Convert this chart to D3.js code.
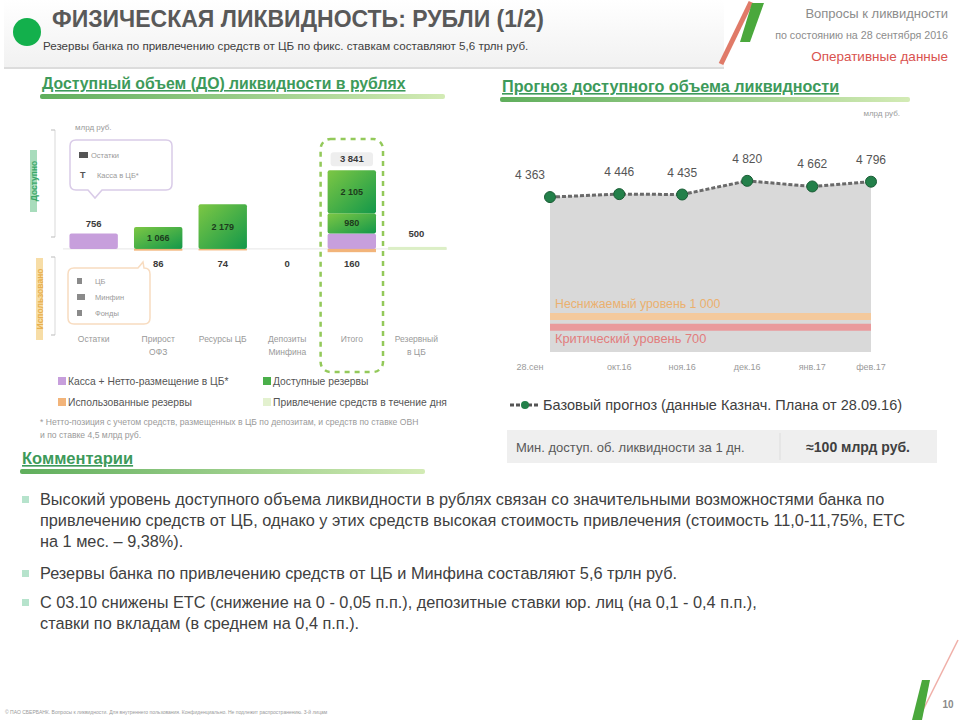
<!DOCTYPE html>
<html>
<head>
<meta charset="utf-8">
<script src="https://cdn.jsdelivr.net/npm/d3@7"></script>
<style>
  body { margin: 0; background: #fff; }
  svg { font-family: "Liberation Sans", Arial, sans-serif; display: block; }
</style>
</head>
<body>
<svg id="slide" width="960" height="720"></svg>
<script>
// --- data -------------------------------------------------------------
var barCats = ["Остатки", "Прирост|ОФЗ", "Ресурсы ЦБ", "Депозиты|Минфина", "Итого", "Резервный|в ЦБ"];
var cashVals = [756, 0, 0, 0, 756, 0];          // purple
var resLow = [0, 1066, 2179, 0, 980, 0];        // green (lower segment)
var resHigh = [0, 0, 0, 0, 2105, 0];            // green (upper segment, Итого)
var usedVals = [0, 86, 74, 0, 160, 0];          // orange, below axis
var topLabels = ["756", "", "", "", "3 841", "500"];

var fcDates = ["2016-09-28", "2016-10-31", "2016-11-30", "2016-12-31", "2017-01-31", "2017-02-28"];
var fcLabels = ["28.сен", "окт.16", "ноя.16", "дек.16", "янв.17", "фев.17"];
var fcVals = [4363, 4446, 4435, 4820, 4662, 4796];
var minLevel = 1000, critLevel = 700;

var comments = [
  ["Высокий уровень доступного объема ликвидности в рублях связан со значительными возможностями банка по",
   "привлечению средств  от ЦБ, однако у этих средств высокая стоимость привлечения (стоимость 11,0-11,75%, ЕТС",
   "на 1 мес. – 9,38%)."],
  ["Резервы банка по привлечению средств от ЦБ и Минфина составляют 5,6 трлн руб."],
  ["С 03.10 снижены ЕТС (снижение на 0 - 0,05 п.п.), депозитные ставки юр. лиц (на 0,1 - 0,4 п.п.),",
   "ставки по вкладам (в среднем на 0,4 п.п.)."]
];

var svg = d3.select("#slide");
var defs = svg.append("defs");

var g1 = defs.append("linearGradient").attr("id", "barGreen").attr("x1", 0).attr("y1", 0).attr("x2", 1).attr("y2", 1);
g1.append("stop").attr("offset", "0%").attr("stop-color", "#7dc744");
g1.append("stop").attr("offset", "100%").attr("stop-color", "#13984a");

var g2 = defs.append("linearGradient").attr("id", "uline");
g2.append("stop").attr("offset", "0%").attr("stop-color", "#5fae5c");
g2.append("stop").attr("offset", "100%").attr("stop-color", "#d3ebb5");

var g3 = defs.append("linearGradient").attr("id", "hdr").attr("x1", 0).attr("y1", 0).attr("x2", 0).attr("y2", 1);
g3.append("stop").attr("offset", "0%").attr("stop-color", "#ffffff");
g3.append("stop").attr("offset", "100%").attr("stop-color", "#f1f1f1");

// --- header -----------------------------------------------------------
svg.append("rect").attr("x", 4).attr("y", 0).attr("width", 720).attr("height", 68)
  .attr("fill", "url(#hdr)");
svg.append("line").attr("x1", 4).attr("x2", 724).attr("y1", 68).attr("y2", 68)
  .attr("stroke", "#dcdcdc").attr("stroke-width", 2);
svg.append("circle").attr("cx", 27).attr("cy", 32).attr("r", 14).attr("fill", "#13b04c");
svg.append("text").attr("x", 52).attr("y", 27).attr("font-size", 23).attr("font-weight", "bold")
  .attr("fill", "#595959").text("ФИЗИЧЕСКАЯ ЛИКВИДНОСТЬ: РУБЛИ (1/2)");
svg.append("text").attr("x", 43).attr("y", 50).attr("font-size", 11.6).attr("fill", "#404040")
  .text("Резервы банка по привлечению средств от ЦБ по фикс. ставкам составляют 5,6 трлн руб.");

// logo stripes
svg.append("line").attr("x1", 721).attr("y1", 64).attr("x2", 751).attr("y2", 2)
  .attr("stroke", "#e07a68").attr("stroke-width", 5);
svg.append("path").attr("d", "M752,3 L764,3 L750,42 L740,42 Z").attr("fill", "#4aa83c");

svg.append("text").attr("x", 948).attr("y", 18).attr("text-anchor", "end").attr("font-size", 13)
  .attr("fill", "#8c8c8c").text("Вопросы к ликвидности");
svg.append("text").attr("x", 948).attr("y", 39).attr("text-anchor", "end").attr("font-size", 10.7)
  .attr("fill", "#8c8c8c").text("по состоянию на 28 сентября 2016");
svg.append("text").attr("x", 948).attr("y", 61).attr("text-anchor", "end").attr("font-size", 13.5)
  .attr("fill", "#d9534f").text("Оперативные данные");

function sectionTitle(x, y, w, label, fs) {
  svg.append("text").attr("x", x + 2).attr("y", y).attr("font-size", fs).attr("font-weight", "bold")
    .attr("fill", "#3d9a5a").attr("text-decoration", "underline").text(label);
  svg.append("rect").attr("x", x).attr("y", y + 5).attr("width", w).attr("height", 5)
    .attr("rx", 2).attr("fill", "url(#uline)");
}
sectionTitle(40, 89, 405, "Доступный объем (ДО) ликвидности в рублях", 15.8);
sectionTitle(500, 92, 410, "Прогноз доступного объема ликвидности", 16.2);
sectionTitle(20, 464, 405, "Комментарии", 16.5);

// --- left chart: available / used volume -------------------------------
var xL = d3.scaleBand().domain(barCats).range([63, 447]).paddingInner(0.25).paddingOuter(0.1);
var yL = d3.scaleLinear().domain([-200, 4000]).range([253, 167]);
var bw = xL.bandwidth();

svg.append("text").attr("x", 75).attr("y", 130).attr("font-size", 8).attr("fill", "#9a9a9a").text("млрд руб.");

// axis segments
svg.append("line").attr("x1", 55).attr("x2", 55).attr("y1", 130).attr("y2", 237).attr("stroke", "#d9d9d9");
svg.append("line").attr("x1", 55).attr("x2", 55).attr("y1", 257).attr("y2", 335).attr("stroke", "#d9d9d9");
[130, 237, 257, 335].forEach(function(t) {
  svg.append("line").attr("x1", 51).attr("x2", 55).attr("y1", t).attr("y2", t).attr("stroke", "#bbb");
});
svg.append("line").attr("x1", 63).attr("x2", 447).attr("y1", yL(0)).attr("y2", yL(0))
  .attr("stroke", "#e6e6e6");

// side labels
svg.append("rect").attr("x", 30).attr("y", 150).attr("width", 7).attr("height", 62).attr("fill", "#a8dcbc");
svg.append("text").attr("transform", "translate(37,181) rotate(-90)").attr("text-anchor", "middle")
  .attr("font-size", 8.5).attr("font-weight", "bold").attr("fill", "#3aa86a").text("Доступно");
svg.append("rect").attr("x", 36).attr("y", 258).attr("width", 7).attr("height", 82).attr("fill", "#f7dda6");
svg.append("text").attr("transform", "translate(43,299) rotate(-90)").attr("text-anchor", "middle")
  .attr("font-size", 8.5).attr("font-weight", "bold").attr("fill", "#e8b04e").text("Использовано");

// dashed frame around total
var totX = xL("Итого");
svg.append("rect").attr("x", totX - 7).attr("y", 139).attr("width", bw + 14).attr("height", 233)
  .attr("rx", 10).attr("fill", "none").attr("stroke", "#93c95a").attr("stroke-width", 2.5)
  .attr("stroke-dasharray", "5,5");

var bars = svg.append("g");
barCats.forEach(function(c, i) {
  var x = xL(c);
  var base = 0;
  if (cashVals[i] > 0) {
    bars.append("rect").attr("x", x).attr("y", yL(base + cashVals[i])).attr("width", bw)
      .attr("height", yL(base) - yL(base + cashVals[i])).attr("fill", "#c79fdc").attr("rx", 2);
    base += cashVals[i];
  }
  [resLow[i], resHigh[i]].forEach(function(v) {
    if (v <= 0) return;
    bars.append("rect").attr("x", x).attr("y", yL(base + v)).attr("width", bw)
      .attr("height", yL(base) - yL(base + v)).attr("fill", "url(#barGreen)").attr("rx", 2);
    bars.append("text").attr("x", x + bw / 2).attr("y", yL(base + v / 2) + 3).attr("text-anchor", "middle")
      .attr("font-size", 9).attr("font-weight", "bold").attr("fill", "#1d3b1d").text(d3.format(",")(v).replace(",", " "));
    base += v;
  });
  if (usedVals[i] > 0) {
    bars.append("rect").attr("x", x).attr("y", yL(0)).attr("width", bw)
      .attr("height", yL(-usedVals[i]) - yL(0)).attr("fill", "#f2b47a");
  }
  // used label below axis
  if (i >= 1 && i <= 4) {
    bars.append("text").attr("x", x + bw / 2).attr("y", 267).attr("text-anchor", "middle")
      .attr("font-size", 9.5).attr("font-weight", "bold").attr("fill", "#3a3a3a").text(usedVals[i]);
  }
  // category labels
  c.split("|").forEach(function(part, k) {
    bars.append("text").attr("x", x + bw / 2).attr("y", 342 + k * 13).attr("text-anchor", "middle")
      .attr("font-size", 8.5).attr("fill", "#9a9a9a").text(part);
  });
});

// top labels
var tl = topLabels;
bars.append("text").attr("x", xL(barCats[0]) + bw / 2).attr("y", yL(cashVals[0]) - 6).attr("text-anchor", "middle")
  .attr("font-size", 9.5).attr("font-weight", "bold").attr("fill", "#3a3a3a").text(tl[0]);
var totTop = cashVals[4] + resLow[4] + resHigh[4];
bars.append("rect").attr("x", totX + 3).attr("y", yL(totTop) - 18).attr("width", bw - 6).attr("height", 14)
  .attr("rx", 3).attr("fill", "#eeeeee");
bars.append("text").attr("x", totX + bw / 2).attr("y", yL(totTop) - 8).attr("text-anchor", "middle")
  .attr("font-size", 9.5).attr("font-weight", "bold").attr("fill", "#3a3a3a").text(tl[4]);
var lastX = xL(barCats[5]);
bars.append("rect").attr("x", lastX - 4).attr("y", yL(0) - 2).attr("width", bw + 10).attr("height", 3)
  .attr("fill", "#dcefc6");
bars.append("text").attr("x", lastX + bw / 2).attr("y", yL(0) - 12).attr("text-anchor", "middle")
  .attr("font-size", 9.5).attr("font-weight", "bold").attr("fill", "#3a3a3a").text(tl[5]);

// callouts
svg.append("path")
  .attr("d", "M76,140 H166 Q172,140 172,146 V184 Q172,190 166,190 H102 L95,198 L88,190 H76 Q70,190 70,184 V146 Q70,140 76,140 Z")
  .attr("fill", "#fff").attr("stroke", "#d9cbe8").attr("stroke-width", 1.5);
svg.append("rect").attr("x", 79).attr("y", 152).attr("width", 9).attr("height", 6).attr("fill", "#555");
svg.append("text").attr("x", 91).attr("y", 158).attr("font-size", 7.5).attr("fill", "#9a9a9a").text("Остатки");
svg.append("text").attr("x", 80).attr("y", 178).attr("font-size", 9).attr("font-weight", "bold").attr("fill", "#555").text("Т");
svg.append("text").attr("x", 97).attr("y", 178).attr("font-size", 7.5).attr("fill", "#9a9a9a").text("Касса в ЦБ*");

svg.append("path")
  .attr("d", "M74,268 H138 L143,262 L144,268 Q150,268 150,274 V318 Q150,324 144,324 H74 Q68,324 68,318 V274 Q68,268 74,268 Z")
  .attr("fill", "#fff").attr("stroke", "#f8dcc0").attr("stroke-width", 1.5);
[["ЦБ", 284], ["Минфин", 300], ["Фонды", 316]].forEach(function(it, k) {
  svg.append("rect").attr("x", 77).attr("y", it[1] - 6).attr("width", k === 1 ? 8 : 5).attr("height", 6)
    .attr("fill", "#8a8a8a");
  svg.append("text").attr("x", 95).attr("y", it[1]).attr("font-size", 7.5).attr("fill", "#9a9a9a").text(it[0]);
});

// legend
var legL = [
  ["#c79fdc", "Касса + Нетто-размещение в ЦБ*", 58, 385],
  ["#4aaf4a", "Доступные резервы", 263, 385],
  ["#f2b47a", "Использованные резервы", 58, 406],
  ["#e3f1cf", "Привлечение средств в течение дня", 263, 406]
];
legL.forEach(function(l) {
  svg.append("rect").attr("x", l[2]).attr("y", l[3] - 8).attr("width", 8).attr("height", 8).attr("fill", l[0]);
  svg.append("text").attr("x", l[2] + 10).attr("y", l[3]).attr("font-size", 10.3).attr("fill", "#555").text(l[1]);
});
svg.append("text").attr("x", 40).attr("y", 425).attr("font-size", 8.6).attr("fill", "#9a9a9a")
  .text("* Нетто-позиция с учетом средств, размещенных в ЦБ по депозитам, и средств по ставке ОВН");
svg.append("text").attr("x", 40).attr("y", 438).attr("font-size", 8.6).attr("fill", "#9a9a9a")
  .text("и по ставке 4,5 млрд руб.");

// --- right chart: forecast --------------------------------------------
var parse = d3.timeParse("%Y-%m-%d");
var fc = fcDates.map(function(d, i) { return { date: parse(d), v: fcVals[i], lab: fcLabels[i] }; });
var xR = d3.scaleTime().domain(d3.extent(fc, function(d) { return d.date; })).range([550, 871]);
var yR = d3.scaleLinear().domain([0, 4900]).range([352, 178]);

svg.append("text").attr("x", 900).attr("y", 116).attr("text-anchor", "end").attr("font-size", 8)
  .attr("fill", "#9a9a9a").text("млрд руб.");

svg.append("path").datum(fc)
  .attr("d", d3.area().x(function(d) { return xR(d.date); }).y0(yR(0)).y1(function(d) { return yR(d.v); }))
  .attr("fill", "#d9d9d9");

var x0 = xR(fc[0].date), x1 = xR(fc[fc.length - 1].date);
svg.append("line").attr("x1", x0).attr("x2", x1).attr("y1", yR(minLevel)).attr("y2", yR(minLevel))
  .attr("stroke", "#f4c99c").attr("stroke-width", 7);
svg.append("line").attr("x1", x0).attr("x2", x1).attr("y1", yR(critLevel)).attr("y2", yR(critLevel))
  .attr("stroke", "#e99a9c").attr("stroke-width", 7);
svg.append("text").attr("x", x0 + 5).attr("y", yR(minLevel) - 8).attr("font-size", 12.3)
  .attr("fill", "#ebb06e").text("Неснижаемый уровень 1 000");
svg.append("text").attr("x", x0 + 5).attr("y", yR(critLevel) + 16).attr("font-size", 12.8)
  .attr("fill", "#e27d7d").text("Критический уровень 700");

svg.append("path").datum(fc)
  .attr("d", d3.line().x(function(d) { return xR(d.date); }).y(function(d) { return yR(d.v); }))
  .attr("fill", "none").attr("stroke", "#6a6a6a").attr("stroke-width", 3).attr("stroke-dasharray", "4,2");

var pts = svg.append("g").selectAll("g").data(fc).join("g");
pts.append("circle").attr("cx", function(d) { return xR(d.date); }).attr("cy", function(d) { return yR(d.v); })
  .attr("r", 5.5).attr("fill", "#23804a").attr("stroke", "#1a5c35");
pts.append("text")
  .attr("x", function(d, i) { return xR(d.date) - (i === 0 ? 20 : 0); })
  .attr("y", function(d) { return yR(d.v) - 18; })
  .attr("text-anchor", "middle").attr("font-size", 12).attr("fill", "#555")
  .text(function(d) { return d3.format(",")(d.v).replace(",", " "); });
pts.append("text")
  .attr("x", function(d, i) { return xR(d.date) - (i === 0 ? 20 : 0); })
  .attr("y", 370).attr("text-anchor", "middle").attr("font-size", 9).attr("fill", "#9a9a9a")
  .text(function(d) { return d.lab; });

// legend for forecast
svg.append("line").attr("x1", 510).attr("x2", 540).attr("y1", 405).attr("y2", 405)
  .attr("stroke", "#555").attr("stroke-width", 3).attr("stroke-dasharray", "4,2");
svg.append("circle").attr("cx", 525).attr("cy", 405).attr("r", 4).attr("fill", "#23804a");
svg.append("text").attr("x", 543).attr("y", 410).attr("font-size", 14.5).attr("fill", "#404040")
  .text("Базовый прогноз (данные Казнач. Плана от 28.09.16)");

// summary box
svg.append("rect").attr("x", 507).attr("y", 430).attr("width", 430).attr("height", 33).attr("fill", "#efefef");
svg.append("line").attr("x1", 780).attr("x2", 780).attr("y1", 433).attr("y2", 460).attr("stroke", "#ddd");
svg.append("text").attr("x", 516).attr("y", 452).attr("font-size", 13).attr("fill", "#595959")
  .text("Мин. доступ. об. ликвидности за 1 дн.");
svg.append("text").attr("x", 910).attr("y", 452).attr("text-anchor", "end").attr("font-size", 14)
  .attr("font-weight", "bold").attr("fill", "#404040").text("≈100 млрд руб.");

// --- comments ---------------------------------------------------------
var cy = 505;
var lineGaps = [21, 21, 21];
comments.forEach(function(par, p) {
  svg.append("rect").attr("x", 22).attr("y", cy - 9).attr("width", 7).attr("height", 7).attr("fill", "#b6e3cc");
  par.forEach(function(line, k) {
    svg.append("text").attr("x", 40).attr("y", cy).attr("font-size", 16.3).attr("fill", "#404040").text(line);
    cy += (k < par.length - 1) ? lineGaps[p] : 0;
  });
  cy += (p === 0 ? 32 : 29);
});

// --- footer -----------------------------------------------------------
svg.append("text").attr("x", 5).attr("y", 714).attr("font-size", 5).attr("fill", "#9a9a9a")
  .text("© ПАО СБЕРБАНК. Вопросы к ликвидности. Для внутреннего пользования. Конфиденциально. Не подлежит распространению. 3-й лицам");
svg.append("line").attr("x1", 958).attr("y1", 640).attr("x2", 918).attr("y2", 720)
  .attr("stroke", "#f0b0a8").attr("stroke-width", 1.5);
svg.append("path").attr("d", "M922,680 L930,680 L922,720 L912,720 Z").attr("fill", "#4aa83c");
svg.append("text").attr("x", 948).attr("y", 708).attr("text-anchor", "middle").attr("font-size", 10)
  .attr("font-weight", "bold").attr("fill", "#8a8a8a").text("10");
</script>
</body>
</html>
